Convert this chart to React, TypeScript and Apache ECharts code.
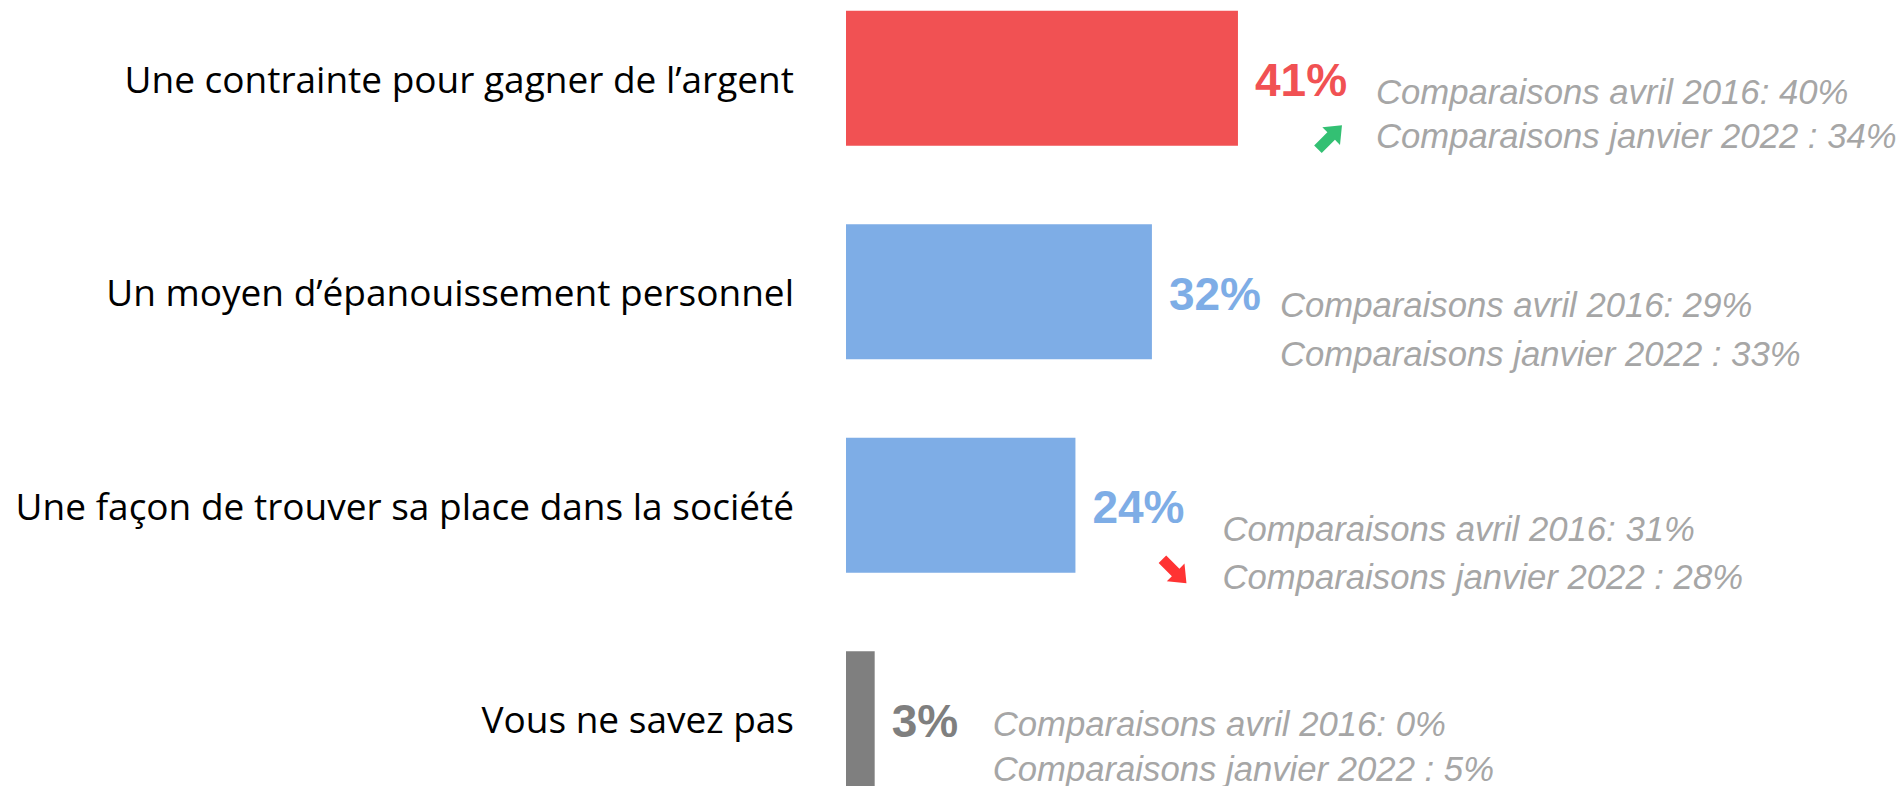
import React, { useEffect, useRef } from "react";
import * as echarts from "echarts";

// ---- data ----
const categories = [
  "Une contrainte pour gagner de l’argent",
  "Un moyen d’épanouissement personnel",
  "Une façon de trouver sa place dans la société",
  "Vous ne savez pas",
];
const values = [41, 32, 24, 3];
const april2016 = [40, 29, 31, 0];
const january2022 = [34, 33, 28, 5];
const trends: (string | null)[] = ["up", null, "down", null];

// ---- styles / layout ----
const barColors = ["#F15153", "#7EADE6", "#7EADE6", "#7F7F7F"];
const compOffsets = [
  [138, 35.5],
  [128, 37.5],
  [147, 47.5],
  [118, 28],
];
const compLineHeights = [43.5, 49.5, 48.5, 45];
const arrowOffsets: (number[] | null)[] = [[92, 59], null, [99, 66], null];
const ARROW_PATH = "path://M35,0 L70,45 L50,45 L50,100 L20,100 L20,45 L0,45 Z";
const SHIFT_UP = 29;

export default function App() {
  const ref = useRef<HTMLDivElement>(null);

  useEffect(() => {
    if (!ref.current) return;
    const chart = echarts.init(ref.current, undefined, { renderer: "svg" });

    const arrowData = trends
      .map((t, i) => {
        if (!t) return null;
        const up = t === "up";
        return {
          value: [values[i], categories[i]],
          symbolRotate: up ? -45 : -135,
          symbolOffset: arrowOffsets[i],
          itemStyle: { color: up ? "#00B050" : "#FF0000" },
        };
      })
      .filter((d) => d !== null);

    chart.setOption({
      animation: false,
      backgroundColor: "#ffffff",
      grid: { left: 846, top: 0.5, width: 956, height: 854, containLabel: false },
      xAxis: { type: "value", min: 0, max: 100, show: false },
      yAxis: {
        type: "category",
        data: categories,
        inverse: true,
        axisLine: { show: false },
        axisTick: { show: false },
        splitLine: { show: false },
        axisLabel: {
          margin: 52,
          color: "#000000",
          fontFamily: "Open Sans",
          fontSize: 37,
        },
      },
      series: [
        {
          type: "bar",
          barWidth: 135,
          barGap: "-100%",
          z: 3,
          data: values.map((v, i) => ({
            value: v,
            itemStyle: { color: barColors[i] },
            label: { color: barColors[i] },
          })),
          label: {
            show: true,
            position: "right",
            distance: 17,
            offset: [0, 2],
            formatter: "{c}%",
            fontFamily: "Liberation Sans, Arial, sans-serif",
            fontWeight: "bold",
            fontSize: 46,
          },
        },
        {
          type: "bar",
          barWidth: 135,
          barGap: "-100%",
          silent: true,
          z: 2,
          itemStyle: { color: "rgba(0,0,0,0)" },
          data: values.map((v, i) => ({
            value: v,
            label: {
              offset: compOffsets[i],
              lineHeight: compLineHeights[i],
            },
          })),
          label: {
            show: true,
            position: "right",
            distance: 0,
            align: "left",
            color: "#A6A6A6",
            fontFamily: "Liberation Sans, Arial, sans-serif",
            fontStyle: "italic",
            fontSize: 34.7,
            formatter: (p: any) =>
              `Comparaisons avril 2016: ${april2016[p.dataIndex]}%\nComparaisons janvier 2022 : ${january2022[p.dataIndex]}%`,
          },
        },
        {
          type: "scatter",
          symbol: ARROW_PATH,
          symbolSize: [25, 34],
          silent: true,
          z: 4,
          data: arrowData,
        },
      ],
    });

    return () => chart.dispose();
  }, []);

  return (
    <div
      style={{ position: "fixed", left: 0, top: 0, width: 1903, height: 786, overflow: "hidden", background: "#fff" }}
    >
      <div
        ref={ref}
        style={{ position: "absolute", left: 0, top: -SHIFT_UP, width: 1903, height: 900 }}
      />
    </div>
  );
}
